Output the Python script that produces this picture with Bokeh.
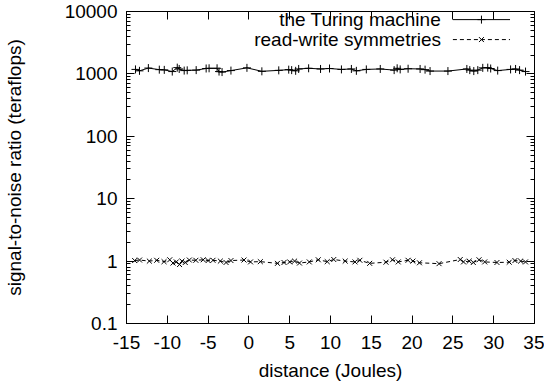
from bokeh.plotting import figure
from bokeh.models import LinearAxis, LogAxis, Range1d, FixedTicker, Label, CustomJSTickFormatter
from bokeh.embed import file_html
from bokeh.resources import INLINE
import math

# ---- data ----
turing_x = [-13.90, -13.41, -12.32, -10.98, -10.37, -9.39, -8.78, -8.54, -7.93, -7.56,
            -6.46, -5.24, -4.88, -3.90, -3.66, -3.29, -2.20, -0.24, 1.59, 3.66,
            4.88, 5.24, 5.73, 6.10, 7.32, 8.78, 9.88, 11.34, 12.56, 13.17,
            14.39, 16.10, 17.80, 18.17, 18.54, 19.51, 20.98, 21.59, 22.20, 24.39,
            26.71, 27.07, 27.56, 28.05, 28.66, 29.27, 29.63, 30.49, 32.07, 32.68,
            33.17, 33.90]
turing_y = [1180, 1120, 1240, 1170, 1160, 1090, 1260, 1200, 1130, 1140,
            1150, 1220, 1230, 1230, 1090, 1070, 1130, 1250, 1100, 1140,
            1170, 1150, 1120, 1200, 1230, 1200, 1220, 1180, 1200, 1120,
            1180, 1200, 1150, 1230, 1180, 1210, 1200, 1170, 1110, 1110,
            1200, 1150, 1110, 1150, 1250, 1260, 1220, 1130, 1180, 1200,
            1150, 1090]

rw_x = [-14.0, -13.4, -12.2, -11.3, -10.4, -9.7, -9.3, -8.9, -8.5, -8.2,
        -7.8, -7.3, -6.5, -5.6, -5.0, -4.4, -3.5, -2.8, -2.2, -0.6,
        0.2, 1.4, 3.5, 4.3, 5.0, 5.6, 6.2, 7.4, 8.5, 9.6,
        10.4, 11.8, 13.0, 13.6, 14.8, 16.8, 17.6, 18.3, 19.5, 20.1,
        20.9, 23.3, 25.9, 26.3, 27.0, 27.5, 28.2, 28.9, 30.4, 31.9,
        32.6, 33.3, 33.9]
rw_y = [1.02, 1.04, 1.00, 1.03, 0.98, 1.05, 0.93, 0.97, 0.88, 1.00,
        0.95, 1.04, 1.03, 1.05, 1.02, 1.03, 1.00, 0.95, 1.02, 1.04,
        0.97, 0.98, 0.92, 0.95, 0.97, 1.00, 0.93, 0.97, 1.05, 0.98,
        1.06, 1.00, 0.97, 1.03, 0.92, 0.96, 1.05, 0.97, 1.03, 1.00,
        0.94, 0.91, 1.06, 0.97, 1.00, 0.95, 1.05, 0.97, 0.95, 0.96,
        1.02, 1.00, 0.97]

series_names = ["the Turing machine", "read-write symmetries"]
x_ticks = [-15, -10, -5, 0, 5, 10, 15, 20, 25, 30, 35]
y_ticks = [0.1, 1, 10, 100, 1000, 10000]
x_label = "distance (Joules)"
y_label = "signal-to-noise ratio (teraflops)"

# ---- styling ----
FONT = "Liberation Sans"
FS = "19px"
X0, X1 = -15, 35
Y0, Y1 = 0.1, 10000

y_minor = [d * m for d in y_ticks[:-1] for m in range(2, 10)]

p = figure(width=544, height=383, x_range=Range1d(X0, X1), y_range=Range1d(Y0, Y1),
           y_axis_type="log", output_backend="svg", toolbar_location=None,
           min_border_left=120, min_border_right=10, min_border_top=11,
           min_border_bottom=60)
p.xgrid.visible = False
p.ygrid.visible = False
p.outline_line_color = "black"
p.outline_line_alpha = 1
p.outline_line_width = 1
p.background_fill_color = "white"
p.border_fill_color = "white"

num_fmt = CustomJSTickFormatter(code="return tick.toString();")
blank_fmt = CustomJSTickFormatter(code="return '';")

def style_axis(ax, labels=True):
    ax.major_tick_in = 8
    ax.major_tick_out = 0
    ax.minor_tick_in = 4
    ax.minor_tick_out = 0
    ax.axis_line_color = "black"
    ax.major_tick_line_color = "black"
    ax.minor_tick_line_color = "black"
    ax.major_label_text_font = FONT
    ax.major_label_text_font_size = FS
    ax.major_label_text_color = "black"
    ax.axis_label_text_font = FONT
    ax.axis_label_text_font_size = FS
    ax.axis_label_text_font_style = "normal"
    ax.axis_label_text_color = "black"
    if not labels:
        ax.formatter = blank_fmt
        ax.major_label_standoff = 0
        ax.axis_line_color = None

xa = p.xaxis[0]
xa.ticker = FixedTicker(ticks=x_ticks, minor_ticks=[])
xa.formatter = num_fmt
style_axis(xa)
xa.major_label_standoff = 12
xa.axis_label = x_label
xa.axis_label_standoff = 8

ya = p.yaxis[0]
ya.ticker = FixedTicker(ticks=y_ticks, minor_ticks=y_minor)
ya.formatter = num_fmt
style_axis(ya)
ya.major_label_standoff = 9
ya.axis_label = y_label
ya.axis_label_standoff = 37

top = LinearAxis(ticker=FixedTicker(ticks=x_ticks, minor_ticks=[]))
style_axis(top, labels=False)
p.add_layout(top, "above")

right = LogAxis(ticker=FixedTicker(ticks=y_ticks, minor_ticks=y_minor))
style_axis(right, labels=False)
p.add_layout(right, "right")

# ---- series ----
p.line(turing_x, turing_y, line_color="black", line_width=1)
p.scatter(turing_x, turing_y, marker="cross", size=8, line_color="black", line_width=1)

p.line(rw_x, rw_y, line_color="black", line_width=1, line_dash="4 3")
p.scatter(rw_x, rw_y, marker="x", size=7, line_color="black", line_width=1)

# ---- gnuplot-style key (top right): text right-aligned, sample to the right ----
def yfrac(f):  # fraction from the top of the frame -> data y (log)
    return 10 ** (math.log10(Y1) - f * (math.log10(Y1) - math.log10(Y0)))
def xfrac(f):
    return X0 + f * (X1 - X0)

rows = [(0.026, None), (0.090, "4 3")]
markers = ["cross", "x"]
for (fy, dash), name, mk in zip(rows, series_names, markers):
    yy = yfrac(fy)
    p.add_layout(Label(x=xfrac(0.771), y=yy, text=name, text_align="right",
                       text_baseline="middle", text_font=FONT, text_font_size=FS,
                       text_color="black"))
    kw = dict(line_color="black", line_width=1)
    if dash:
        kw["line_dash"] = dash
    p.line([xfrac(0.80), xfrac(0.94)], [yy, yy], **kw)
    p.scatter([xfrac(0.87)], [yy], marker=mk, size=8 if mk == "cross" else 7,
              line_color="black", line_width=1)

open("out.html", "w").write(file_html(p, INLINE))
